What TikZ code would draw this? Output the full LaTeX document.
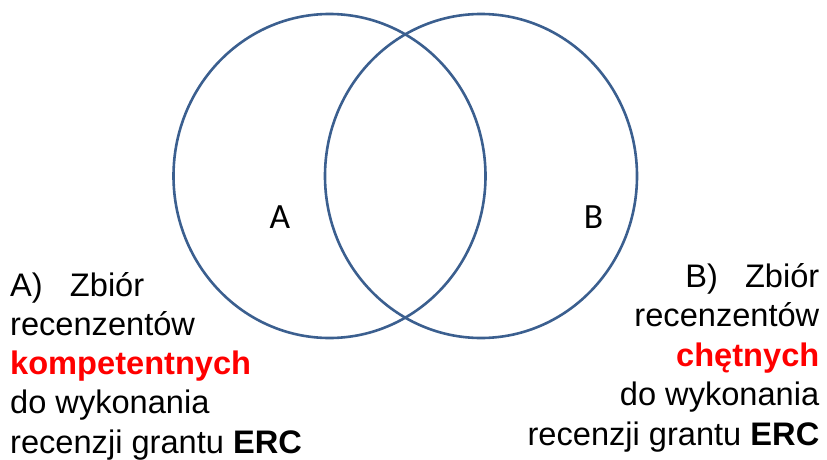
\documentclass[tikz,border=0pt]{standalone}
\usepackage{fontspec}
\setmainfont{Liberation Sans}
\newfontfamily\labfont{Carlito}
\definecolor{circblue}{HTML}{3B5F8F}
\definecolor{hired}{HTML}{FF0000}
\begin{document}
\begin{tikzpicture}[x=1pt,y=-1pt,
  txt/.style={inner sep=0pt,font=\fontsize{32.6}{39}\selectfont},
  lab/.style={inner sep=0pt,font=\labfont\fontsize{35.5}{40}\selectfont,anchor=base},
  ring/.style={draw=circblue,line width=2.6pt}]
\useasboundingbox (0,0) rectangle (827,460);
\draw[ring] (329.5,176) ellipse [x radius=156, y radius=162];
\draw[ring] (481,176) ellipse [x radius=156, y radius=162];
\node[lab] (la) at (280,228) {A};
\node[lab] (lb) at (593.5,228) {B};
% left block
\node[txt,anchor=base west] (a1) at (10,296) {A)\ \ \ Zbiór};
\node[txt,anchor=base west] (a2) at (10,335.25) {recenzentów};
\node[txt,anchor=base west,text=hired] (a3) at (10,374.5) {\bfseries kompetentnych};
\node[txt,anchor=base west] (a4) at (10,413.75) {do wykonania};
\node[txt,anchor=base west] (a5) at (10,453) {recenzji grantu \textbf{ERC}};
% right block
\node[txt,anchor=base east] (b1) at (819.5,287) {B)\ \ \ Zbiór};
\node[txt,anchor=base east] (b2) at (819.5,326.5) {recenzentów};
\node[txt,anchor=base east,text=hired] (b3) at (819.5,366) {\bfseries chętnych};
\node[txt,anchor=base east] (b4) at (819.5,405.5) {do wykonania};
\node[txt,anchor=base east] (b5) at (819.5,445) {recenzji grantu \textbf{ERC}};
\end{tikzpicture}
\end{document}
